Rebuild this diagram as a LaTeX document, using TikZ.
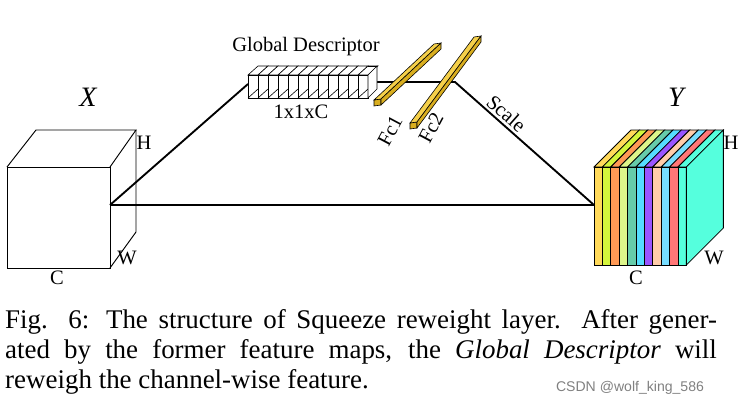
\documentclass[tikz,border=0pt]{standalone}
\usepackage{fontspec}
\setmainfont{Liberation Serif}
\newfontfamily\wmfont{Liberation Sans}
\definecolor{bar}{HTML}{F5D04A}
\definecolor{barside}{HTML}{D9AE1F}
\tikzset{
  edge/.style={line width=1.6pt},
  lbl/.style={font=\fontsize{17.5}{19}\selectfont,inner sep=0pt},
  ttl/.style={font=\fontsize{24}{26}\selectfont\itshape,inner sep=0pt},
  captext/.style={font=\fontsize{23}{26}\selectfont,inner sep=0pt,anchor=west},
  frame/.style={draw,line width=0.5pt},
}
\begin{document}
\begin{tikzpicture}[x=0.03cm,y=-0.03cm]
  \useasboundingbox (0,0) rectangle (744,407);
  % input cube X
  \draw[frame,fill=white,line width=0.8pt] (7,167) -- (110,167) -- (110,268) -- (7,268) -- cycle;
  \draw[frame,line width=0.8pt] (7,167) -- (36,130) -- (136,130) -- (110,167);
  \draw[frame,line width=0.8pt] (136,130) -- (136,232) -- (110,268);
  \node[ttl] (tx) at (88,97) {X};
  \node[lbl] (hx) at (144,143) {H};
  \node[lbl] (wx) at (127,258) {W};
  \node[lbl] (cx) at (57,278) {C};
  % connectors
  \coordinate (xin) at (110,205);
  \coordinate (yin) at (594,205);
  \coordinate (gl) at (248,84);
  \coordinate (gr) at (368,82);
  \coordinate (fk) at (455,82);
  \draw[edge] (xin) -- (yin);
  \draw[edge] (xin) -- (gl);
  \draw[edge] (gr) -- (fk) -- node[sloped,above,lbl,pos=0.32,yshift=2pt] {Scale} (yin);
  % global descriptor
  \foreach \i in {0,...,11} {
    \draw[frame,fill=white] ({248+10*\i},75) -- ({258+10*\i},66) -- ({268+10*\i},66) -- ({258+10*\i},75) -- cycle;
    \draw[frame,fill=white] ({248+10*\i},75) rectangle ({258+10*\i},98);
    \draw[frame] ({248+10*\i},98) -- ({258+10*\i},89);
  }
  \draw[frame,fill=white] (368,75) -- (377,66) -- (377,89) -- (368,98) -- cycle;
  \draw[frame] (368,66) -- (377,66);
  \node[lbl] (gd) at (306,47) {Global Descriptor};
  \node[lbl] (gs) at (301,112) {1x1xC};
  % fully connected bars
  \foreach \a/\b in {374/106,410/129} {
    \draw[frame,fill=barside] (\a,\b) -- ({\a+7},{\b-1}) -- ({\a+7},{\b-7}) -- (\a,{\b-6}) -- cycle;
  }
  \draw[frame,fill=bar] (374,100) -- (434,44) -- (441,43) -- (381,99) -- cycle;
  \draw[frame,fill=barside] (381,99) -- (441,43) -- (441,49) -- (381,105) -- cycle;
  \draw[frame,fill=bar] (410,123) -- (474,37) -- (481,36) -- (417,122) -- cycle;
  \draw[frame,fill=barside] (417,122) -- (481,36) -- (481,42) -- (417,128) -- cycle;
  \node[lbl,rotate=62] (f1) at (390,131) {Fc1};
  \node[lbl,rotate=62] (f2) at (431,128) {Fc2};
  % output cube Y
  \foreach \c [count=\i from 0] in {FFD95A,D4F53C,FF9955,DDF58A,66CCAA,55DDFF,9955FF,FFCCAA,77DDFF,FF7777,55FFDD} {
    \definecolor{sl}{HTML}{\c}
    \draw[frame,fill=sl,line width=0.7pt] ({594+8.4*\i},167) -- ({631+8.4*\i},130) -- ({639.4+8.4*\i},130) -- ({602.4+8.4*\i},167) -- cycle;
    \draw[frame,fill=sl,line width=0.7pt] ({594+8.4*\i},167) rectangle ({602.4+8.4*\i},265);
  }
  \draw[frame,fill={rgb,255:red,85;green,255;blue,221},line width=0.7pt] (686.4,167) -- (723.4,130) -- (723.4,228) -- (686.4,265) -- cycle;
  \node[ttl] (ty) at (676,97) {Y};
  \node[lbl] (hy) at (731,143) {H};
  \node[lbl] (wy) at (714,258) {W};
  \node[lbl] (cy) at (636,278) {C};
  % caption
  \node[captext] (c1) at (5,322) {\makebox[21.35cm][s]{Fig. 6: The structure of Squeeze reweight layer. After gener-}};
  \node[captext] (c2) at (5,352) {\makebox[21.35cm][s]{ated by the former feature maps, the \textit{Global Descriptor} will}};
  \node[captext] (c3) at (5,382) {reweigh the channel-wise feature.};
  \node[font=\wmfont\fontsize{12}{14}\selectfont,text=gray,inner sep=0pt] (wm) at (630,388) {CSDN @wolf\_king\_586};
\end{tikzpicture}
\end{document}
